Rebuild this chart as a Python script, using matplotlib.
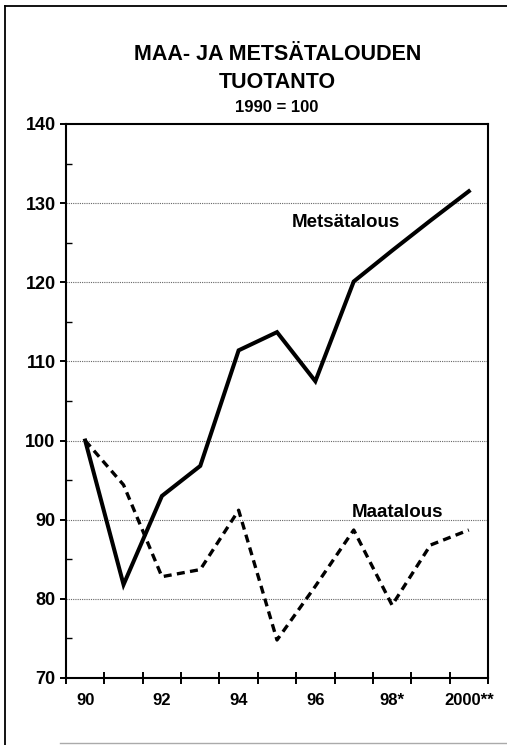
import numpy as np
import matplotlib.pyplot as plt
from matplotlib.lines import Line2D

plt.rcParams['font.family'] = ['Liberation Sans', 'DejaVu Sans']
plt.rcParams['font.weight'] = 'bold'

years = [1990, 1991, 1992, 1993, 1994, 1995, 1996, 1997, 1998, 1999, 2000]
tick_labels = ['90', '92', '94', '96', '98*', '2000**']
metsatalous = [100, 81.8, 93.0, 96.8, 111.4, 113.7, 107.5, 120.1, 124.0, 127.8, 131.5]
maatalous = [100, 94.4, 82.8, 83.7, 91.2, 74.8, 81.6, 88.7, 79.2, 86.8, 88.7]

fig = plt.figure(figsize=(5.07, 7.45), dpi=100)
ax = fig.add_axes([66/507, 1-678/745, 422/507, 554/745])

x = np.arange(len(years))
ax.plot(x, metsatalous, color='black', lw=2.9, solid_joinstyle='miter')
ax.plot(x, maatalous, color='black', lw=2.4, linestyle=(0, (2.4, 1.6)))

ax.set_xlim(-0.5, len(years) - 0.5)
ax.set_ylim(70, 140)

# category boundary ticks, labels at every other year
ax.set_xticks(np.arange(-0.5, len(years), 1.0))
ax.set_xticklabels([])
ax.set_xticks(x[::2], minor=True)
ax.set_xticklabels(tick_labels, minor=True, fontsize=12, fontweight='bold')
ax.tick_params(axis='x', which='major', direction='inout', length=9, width=1.4)
ax.tick_params(axis='x', which='minor', length=0, pad=11)

ax.set_yticks(np.arange(70, 141, 10))
ax.set_yticks(np.arange(75, 140, 10), minor=True)
ax.tick_params(axis='y', which='major', direction='out', length=4.5, width=1.4, labelsize=13, pad=3)
ax.tick_params(axis='y', which='minor', direction='in', length=4, width=1)
for lab in ax.get_yticklabels():
    lab.set_fontweight('bold')

for v in range(80, 131, 10):
    ax.axhline(v, color='#666666', lw=0.8, linestyle=(0, (1, 1)), zorder=0)

for s in ax.spines.values():
    s.set_linewidth(1.5)

ax.text(6.8, 127.5, 'Metsätalous', fontsize=13.5, fontweight='bold', ha='center', va='center')
ax.text(8.13, 90.9, 'Maatalous', fontsize=13.5, fontweight='bold', ha='center', va='center')

fig.text(278/507, 1-55/745, 'MAA- JA METSÄTALOUDEN', fontsize=15.5, fontweight='bold', ha='center', va='center')
fig.text(277/507, 1-82/745, 'TUOTANTO', fontsize=15.5, fontweight='bold', ha='center', va='center')
fig.text(277/507, 1-108/745, '1990 = 100', fontsize=12, fontweight='bold', ha='center', va='center')

# outer frame
fig.add_artist(Line2D([5/507, 5/507], [0, 1-6/745], color='black', lw=1.3, transform=fig.transFigure))
fig.add_artist(Line2D([5/507, 1], [1-6/745, 1-6/745], color='black', lw=1.3, transform=fig.transFigure))
fig.add_artist(Line2D([60/507, 1], [1-743/745, 1-743/745], color='#aaaaaa', lw=1, transform=fig.transFigure))

plt.savefig('out.png', dpi=100)
